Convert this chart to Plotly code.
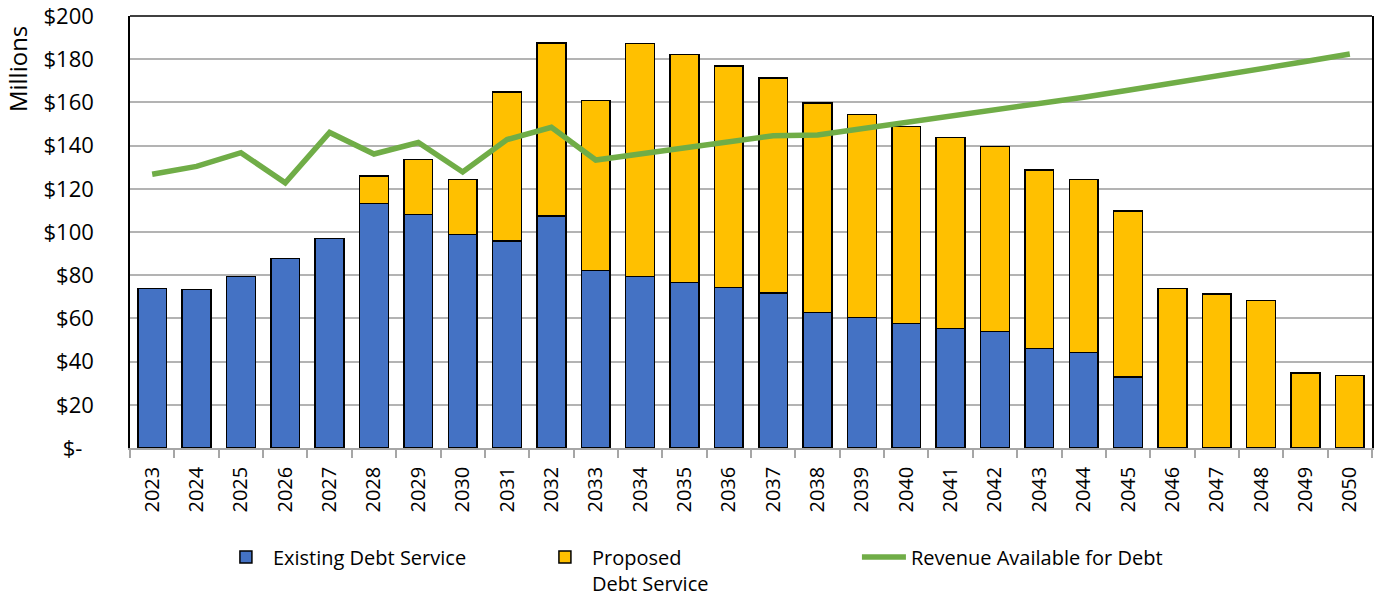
import plotly.graph_objects as go

years = [str(y) for y in range(2023, 2051)]

existing = [73.8, 73.3, 79.5, 87.8, 96.9, 113.1, 108.2, 98.9, 95.9, 107.4,
            82.1, 79.3, 76.7, 74.2, 71.8, 62.8, 60.5, 57.6, 55.4, 54.0,
            46.1, 44.3, 32.9, None, None, None, None, None]

proposed = [None, None, None, None, None, 12.8, 25.3, 25.5, 68.9, 80.2,
            78.7, 108.0, 105.4, 102.7, 99.6, 96.9, 93.8, 91.2, 88.3, 85.5,
            82.6, 80.1, 76.8, 73.9, 71.3, 68.2, 34.7, 33.5]

revenue = [126.7, 130.4, 136.7, 122.8, 146.1, 136.1, 141.4, 127.8, 142.8, 148.5,
           133.3, 136.2, 139.0, 141.8, 144.6, 144.9, 147.8, 150.3, 153.2, 156.2,
           159.3, 162.4, 165.6, 168.8, 172.1, 175.5, 178.9, 182.4]

y_tickvals = [0, 20, 40, 60, 80, 100, 120, 140, 160, 180, 200]
y_ticktext = ["$-\u00a0\u00a0", "$20", "$40", "$60", "$80", "$100", "$120",
              "$140", "$160", "$180", "$200"]

FONT = "Open Sans"

fig = go.Figure()
fig.add_trace(go.Bar(
    x=years, y=existing, name="Existing Debt Service",
    marker=dict(color="#4472C4", line=dict(color="black", width=1.5)),
))
fig.add_trace(go.Bar(
    x=years, y=proposed, name="Proposed<br>Debt Service",
    marker=dict(color="#FFC000", line=dict(color="black", width=1.5)),
))
fig.add_trace(go.Scatter(
    x=years, y=revenue, name="Revenue Available for Debt", mode="lines",
    line=dict(color="#70AD47", width=5.5),
))

fig.update_layout(
    barmode="stack",
    bargap=0.35,
    width=1374, height=600,
    margin=dict(l=130, r=2, t=16, b=152, autoexpand=False),
    plot_bgcolor="white",
    paper_bgcolor="white",
    font=dict(family=FONT, size=20, color="black"),
    showlegend=True,
    legend=dict(
        orientation="h",
        x=0.0716, xanchor="left",
        y=-0.207, yanchor="top",
        font=dict(family=FONT, size=20, color="black"),
        valign="top",
        itemwidth=44,
        entrywidth=260,
        entrywidthmode="pixels",
        traceorder="normal",
    ),
    xaxis=dict(
        type="category",
        automargin=False,
        showline=True, linecolor="#A6A6A6", linewidth=1.5,
        ticks="outside", tickson="boundaries", ticklen=8,
        tickcolor="#A6A6A6", tickwidth=1.5,
        tickangle=-90, ticklabelstandoff=9,
        tickfont=dict(family=FONT, size=20),
        showgrid=False,
    ),
    yaxis=dict(
        range=[0, 200],
        automargin=False,
        tickvals=y_tickvals, ticktext=y_ticktext,
        showline=True, linecolor="black", linewidth=1.5, mirror=True,
        showgrid=True, gridcolor="#B3B3B3", gridwidth=1.5,
        ticks="", ticklabelstandoff=30,
        ticklabeloverflow="allow",
        tickfont=dict(family=FONT, size=22),
        zeroline=False,
    ),
    shapes=[dict(type="line", xref="paper", yref="paper", x0=0, x1=1, y0=1, y1=1,
                 line=dict(color="black", width=1.5))],
    annotations=[dict(text="Millions", xref="paper", yref="paper",
                      x=-0.091, y=0.877, textangle=-90, showarrow=False,
                      xanchor="center", yanchor="middle",
                      font=dict(family=FONT, size=24, color="black"))],
)

fig.write_html("out.html",
               config={"displayModeBar": False},
               post_script="document.body.style.margin='0';document.body.style.overflow='hidden';")
